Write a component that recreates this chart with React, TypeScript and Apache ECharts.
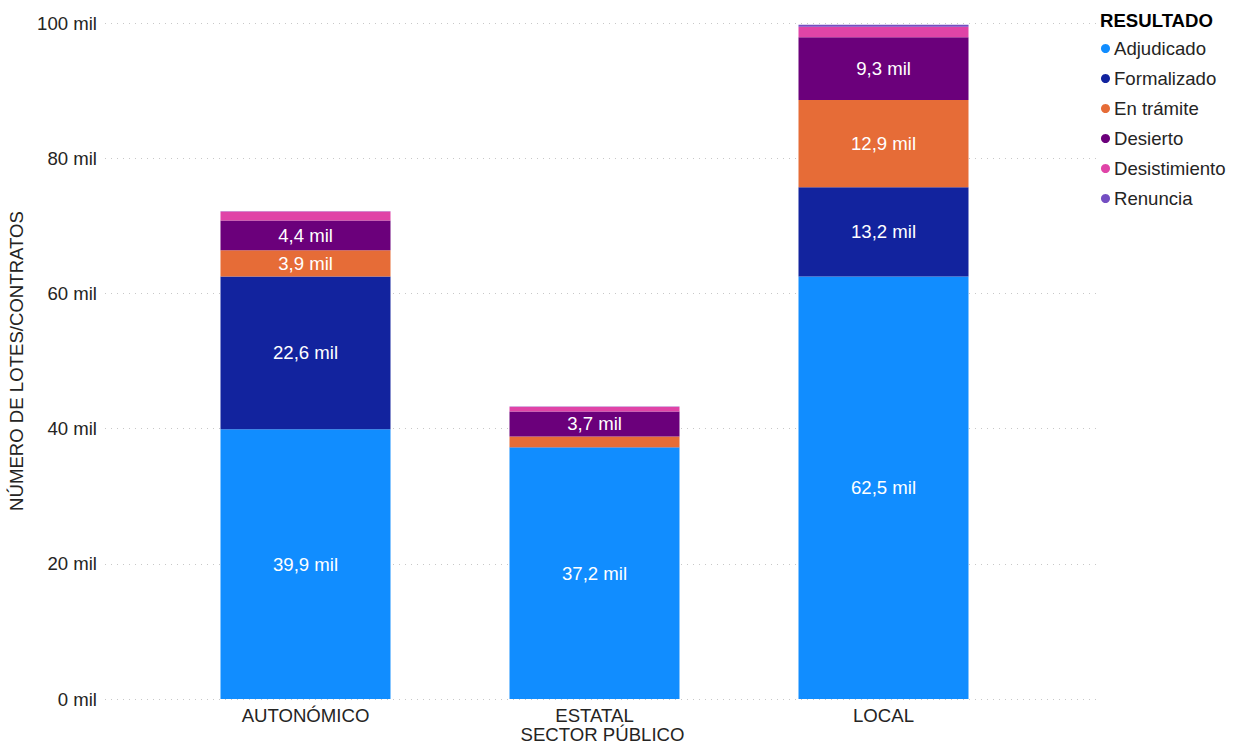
import React, { useEffect, useRef } from "react";
import * as echarts from "echarts";

const categories = ["AUTONÓMICO", "ESTATAL", "LOCAL"];
const adjudicado = [39900, 37200, 62500];
const formalizado = [22600, 40, 13200];
const enTramite = [3900, 1600, 12900];
const desierto = [4400, 3700, 9300];
const desistimiento = [1300, 700, 1550];
const renuncia = [60, 40, 300];

const seriesNames = ["Adjudicado", "Formalizado", "En trámite", "Desierto", "Desistimiento", "Renuncia"];
const seriesData = [adjudicado, formalizado, enTramite, desierto, desistimiento, renuncia];
const colors = ["#118DFF", "#12239E", "#E66C37", "#6B007B", "#E044A7", "#744EC2"];
const yTicks = { min: 0, max: 100000, interval: 20000 };

const FONT = "'Liberation Sans', Arial, sans-serif";
const FS = 18.6;

export default function App() {
  const ref = useRef<HTMLDivElement>(null);
  useEffect(() => {
    document.body.style.margin = "0";
    const chart = echarts.init(ref.current!, null, { renderer: "svg" });
    const fmt = (v: number) => (v / 1000).toFixed(1).replace(".", ",") + " mil";
    chart.setOption({
      animation: false,
      textStyle: { fontFamily: FONT },
      color: colors,
      title: {
        text: "RESULTADO",
        left: 1100,
        top: 11,
        padding: 0,
        textStyle: { fontFamily: FONT, fontSize: FS, fontWeight: "bold", color: "#000" },
      },
      legend: {
        orient: "vertical",
        left: 1101,
        top: 39,
        padding: 0,
        icon: "circle",
        itemWidth: 9,
        itemHeight: 9,
        itemGap: 11,
        textStyle: { fontFamily: FONT, fontSize: FS, color: "#252423", padding: [0, 0, 0, -1] },
        data: seriesNames,
      },
      grid: [
        { left: 105, right: 136, top: 23, bottom: 46, outerBoundsMode: "none", containLabel: false },
        { left: 161, width: 867, top: 23, bottom: 46, outerBoundsMode: "none", containLabel: false },
      ],
      xAxis: [
        {
          gridIndex: 0,
          type: "category",
          data: [""],
          axisLine: { show: false },
          axisTick: { show: false },
          axisLabel: { show: false },
          name: "SECTOR PÚBLICO",
          nameLocation: "middle",
          nameGap: 26,
          nameTextStyle: { fontFamily: FONT, fontSize: FS, color: "#252423" },
        },
        {
          gridIndex: 1,
          type: "category",
          data: categories,
          axisLine: { show: false },
          axisTick: { show: false },
          axisLabel: { fontFamily: FONT, fontSize: FS, color: "#252423", margin: 7 },
        },
      ],
      yAxis: [
        {
          gridIndex: 0,
          type: "value",
          ...yTicks,
          axisLine: { show: false },
          axisTick: { show: false },
          axisLabel: {
            fontFamily: FONT,
            fontSize: FS,
            color: "#252423",
            margin: 8,
            formatter: (v: number) => v / 1000 + " mil",
          },
          splitLine: { lineStyle: { color: "#C8C8C8", type: [1, 5], width: 1 } },
          name: "NÚMERO DE LOTES/CONTRATOS",
          nameLocation: "middle",
          nameGap: 76,
          nameTextStyle: { fontFamily: FONT, fontSize: FS, color: "#252423" },
        },
        {
          gridIndex: 1,
          type: "value",
          ...yTicks,
          show: false,
          splitLine: { show: false },
        },
      ],
      series: seriesNames.map((name, i) => ({
        name,
        type: "bar",
        stack: "total",
        xAxisIndex: 1,
        yAxisIndex: 1,
        barWidth: 170,
        data: seriesData[i],
        itemStyle: { color: colors[i] },
        label: {
          show: true,
          position: "inside",
          color: "#FFFFFF",
          fontFamily: FONT,
          fontSize: FS,
          formatter: (p: any) => (p.value >= 3000 ? fmt(p.value) : ""),
        },
      })),
    });
    return () => chart.dispose();
  }, []);
  return <div ref={ref} style={{ width: 1236, height: 745 }} />;
}
